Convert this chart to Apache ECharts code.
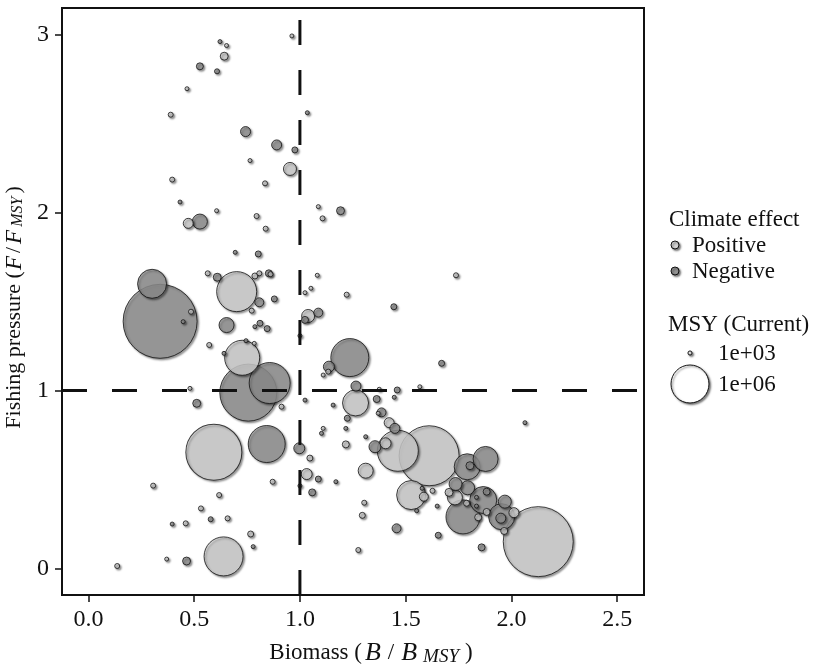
<!DOCTYPE html>
<html><head><meta charset="utf-8">
<script src="https://cdn.jsdelivr.net/npm/echarts@6/dist/echarts.min.js"></script>
<style>html,body{margin:0;padding:0;background:#fff}#c{width:815px;height:664px}</style>
</head><body><div id="c"></div>
<script>
// ---- data ----
const biomass = [
0.622,0.653,0.642,0.527,0.608,0.466,0.389,0.743,0.764,0.396,
0.962,0.890,0.976,0.953,0.835,1.035,0.433,0.606,0.472,0.527,
0.795,0.838,0.694,0.803,1.087,1.107,1.192,1.082,1.738,1.024,
1.052,1.221,1.444,0.339,0.301,0.485,0.448,0.564,0.609,0.701,
0.772,0.653,0.571,0.787,0.811,0.845,0.727,0.641,0.784,0.853,
0.861,0.808,0.787,0.808,0.879,0.745,1.039,1.087,1.024,1.000,
1.236,1.137,1.110,1.134,1.265,1.375,1.460,1.567,1.670,0.756,
0.857,0.480,0.512,0.913,0.593,0.843,0.997,1.047,1.032,1.087,
1.058,1.000,1.024,1.110,1.102,0.871,0.306,0.618,0.532,0.578,
0.658,0.396,0.460,0.767,0.779,0.639,0.464,0.370,0.136,1.157,
1.263,1.224,1.363,1.446,1.386,1.370,1.422,1.449,1.217,1.311,
1.217,1.463,1.355,1.405,1.611,1.311,1.526,1.586,1.578,1.627,
1.649,1.654,1.457,1.276,1.304,1.295,1.170,1.859,2.064,1.791,
1.804,1.878,1.736,1.793,1.705,1.733,1.771,1.867,1.835,1.835,
1.883,1.788,1.843,1.883,1.969,1.954,1.950,2.012,1.966,2.127,
1.552];
const fishing = [
2.962,2.940,2.880,2.823,2.795,2.697,2.551,2.456,2.293,2.186,
2.994,2.381,2.353,2.246,2.165,2.562,2.060,2.011,1.940,1.950,
1.981,1.910,1.777,1.768,2.034,1.968,2.011,1.648,1.648,1.550,
1.575,1.539,1.471,1.389,1.600,1.443,1.387,1.659,1.637,1.556,
1.449,1.368,1.256,1.359,1.378,1.348,1.184,1.209,1.265,1.659,
1.654,1.659,1.644,1.496,1.515,1.280,1.419,1.438,1.397,1.308,
1.185,1.134,1.087,1.106,1.025,1.007,1.003,1.021,1.153,0.988,
1.042,1.012,0.928,0.909,0.653,0.699,0.675,0.620,0.530,0.502,
0.427,0.464,0.946,0.787,0.759,0.487,0.465,0.412,0.337,0.276,
0.281,0.249,0.253,0.193,0.122,0.067,0.041,0.052,0.013,0.918,
0.930,0.844,0.952,0.962,0.877,0.872,0.819,0.787,0.787,0.740,
0.697,0.661,0.684,0.703,0.633,0.549,0.412,0.403,0.450,0.436,
0.350,0.186,0.225,0.103,0.369,0.298,0.487,0.118,0.819,0.571,
0.577,0.615,0.474,0.453,0.427,0.399,0.289,0.384,0.399,0.350,
0.431,0.366,0.287,0.317,0.375,0.290,0.282,0.313,0.210,0.150,
0.324];
const msy = [
800,800,20000,13000,3300,800,3300,40000,800,3300,
800,40000,7300,82000,3300,800,800,800,40000,118000,
3300,3300,800,7300,800,3300,20000,800,3300,800,
800,3300,7300,4115000,552000,3300,800,3300,20000,1118000,
3300,118000,3300,800,7300,7300,836000,800,800,13000,
3300,3300,7300,29000,7300,800,82000,29000,13000,800,
1000000,52000,800,3300,40000,800,7300,800,7300,2380000,
1179000,800,20000,3300,2293000,944000,52000,7300,52000,7300,
13000,800,800,800,800,3300,3300,3300,3300,3300,
3300,800,3300,7300,800,1058000,20000,800,3300,800,
432000,7300,13000,800,29000,800,40000,40000,800,800,
13000,1179000,66000,52000,2652000,118000,552000,29000,800,3300,
800,7300,29000,3300,3300,7300,800,13000,800,432000,
20000,395000,82000,99000,20000,118000,784000,470000,800,800,
13000,7300,13000,13000,82000,432000,40000,40000,13000,3665000,
800];
const effect = [
'N','P','P','N','N','P','P','N','P','P',
'P','N','N','P','P','N','N','P','P','N',
'P','P','N','N','P','P','N','P','P','P',
'P','P','N','N','N','P','N','P','N','P',
'P','N','P','N','N','N','P','N','P','N',
'P','P','P','N','N','N','P','N','N','N',
'N','N','P','P','N','P','N','P','N','N',
'N','P','N','P','P','N','N','P','P','N',
'N','N','N','P','N','P','P','P','P','N',
'P','N','P','P','N','P','N','P','P','N',
'P','N','N','N','N','P','P','N','N','N',
'P','P','N','P','P','P','P','P','N','P',
'N','N','N','P','P','P','N','N','N','N',
'N','N','N','N','P','P','N','N','N','N',
'N','P','P','P','N','N','N','P','P','P',
'N'];
const effectNames = {P: 'Positive', N: 'Negative'};
const xTicks = [0, 0.5, 1, 1.5, 2, 2.5];
const yTicks = [0, 1, 2, 3];
const xRange = [-0.125, 2.627];
const yRange = [-0.15, 3.151];
const refBiomass = 1;
const refFishing = 1;
const legendMsy = [1e3, 1e6];
const legendMsyLabels = ['1e+03', '1e+06'];

// ---- styling ----
const FONT = 'Liberation Serif';
const INK = '#111';
const FILL = {Positive: '#d3d3d3', Negative: '#939393'};
const sizeOf = m => 3 + 0.035 * Math.sqrt(m);
const SHADOW = {shadowBlur: 2, shadowOffsetX: 1.5, shadowOffsetY: 1.5, shadowColor: 'rgba(0,0,0,0.5)'};

const pts = biomass.map((b, i) => ({b: b, f: fishing[i], m: msy[i], e: effectNames[effect[i]]}));
pts.sort((a, c) => c.m - a.m);

const chart = echarts.init(document.getElementById('c'), null, {renderer: 'canvas'});

const richX = {
  n: {fontFamily: FONT, fontSize: 23, color: INK},
  sl: {fontFamily: FONT, fontSize: 23, color: INK, padding: [0, 4, 0, 4]},
  i: {fontFamily: FONT, fontSize: 26, color: INK, fontStyle: 'italic', padding: [0, 3, 0, 3]},
  s: {fontFamily: FONT, fontSize: 19, color: INK, fontStyle: 'italic', verticalAlign: 'bottom', lineHeight: 16, padding: [0, 6, 0, 3]}
};
const richY = {
  n: {fontFamily: FONT, fontSize: 22, color: INK},
  sl: {fontFamily: FONT, fontSize: 22, color: INK, padding: [0, 2, 0, 2]},
  i: {fontFamily: FONT, fontSize: 23, color: INK, fontStyle: 'italic', padding: [0, 1, 0, 1]},
  s: {fontFamily: FONT, fontSize: 16, color: INK, fontStyle: 'italic', verticalAlign: 'bottom', lineHeight: 14, padding: [0, 3, 0, 2]}
};

// legend graphics
const graphics = [];
const LFONT = '23px ' + FONT;
graphics.push({type: 'text', x: 669, y: 220, style: {text: 'Climate effect', font: LFONT, fill: INK, verticalAlign: 'middle'}});
['Positive', 'Negative'].forEach((name, k) => {
  const cy = 245 + k * 26;
  graphics.push({type: 'circle', shape: {cx: 675, cy: cy, r: 4}, style: Object.assign({fill: FILL[name], stroke: INK, lineWidth: 1}, SHADOW)});
  graphics.push({type: 'text', x: 692, y: cy + 1, style: {text: name, font: LFONT, fill: INK, verticalAlign: 'middle'}});
});
graphics.push({type: 'text', x: 668, y: 325, style: {text: 'MSY (Current)', font: LFONT, fill: INK, verticalAlign: 'middle'}});
const legY = [353, 384];
legendMsy.forEach((m, k) => {
  const r = sizeOf(m) / 2;
  graphics.push({type: 'circle', shape: {cx: 690, cy: legY[k], r: r}, style: Object.assign({fill: '#fff', stroke: INK, lineWidth: 1}, SHADOW)});
  graphics.push({type: 'text', x: 718, y: legY[k] + 1, style: {text: legendMsyLabels[k], font: LFONT, fill: INK, verticalAlign: 'middle'}});
});

const option = {
  backgroundColor: '#fff',
  animation: false,
  grid: {left: 62, top: 8, right: 171, bottom: 69, show: true, borderColor: INK, borderWidth: 2, containLabel: false, outerBoundsMode: 'none'},
  xAxis: {
    type: 'value', min: xRange[0], max: xRange[1],
    name: '{n|Biomass (}{i|B}{sl|/}{i|B}{s|MSY}{n|)}', nameLocation: 'middle', nameGap: 45,
    nameTextStyle: {rich: richX, padding: [0, 0, 0, 36]},
    axisLine: {show: true, onZero: false, lineStyle: {color: INK, width: 2}},
    axisTick: {show: true, length: 7, customValues: xTicks, lineStyle: {color: INK, width: 1.5}},
    axisLabel: {customValues: xTicks, formatter: v => Number(v).toFixed(1), fontFamily: FONT, fontSize: 24, color: INK, margin: 13},
    splitLine: {show: false}
  },
  yAxis: {
    type: 'value', min: yRange[0], max: yRange[1],
    name: '{n|Fishing pressure (}{i|F}{sl|/}{i|F}{s|MSY}{n|)}', nameLocation: 'middle', nameGap: 34, nameRotate: 90,
    nameTextStyle: {rich: richY, padding: [0, 12, 0, 0]},
    axisLine: {show: true, onZero: false, lineStyle: {color: INK, width: 2}},
    axisTick: {show: true, length: 7, customValues: yTicks, lineStyle: {color: INK, width: 1.5}},
    axisLabel: {customValues: yTicks, formatter: v => String(Math.round(v)), fontFamily: FONT, fontSize: 24, color: INK, margin: 13},
    splitLine: {show: false}
  },
  series: [
    {
      type: 'scatter',
      data: pts.map(p => ({value: [p.b, p.f, p.m], name: p.e, itemStyle: {color: FILL[p.e]}})),
      symbolSize: v => sizeOf(v[2]),
      itemStyle: Object.assign({borderColor: INK, borderWidth: 1}, SHADOW),
      z: 2
    },
    {
      type: 'line', z: 5, silent: true, symbol: 'none', animation: false,
      data: [[refBiomass, yRange[0]], [refBiomass, yRange[1]]],
      lineStyle: {color: INK, width: 3, type: [25, 25]}
    },
    {
      type: 'line', z: 5, silent: true, symbol: 'none', animation: false,
      data: [[xRange[0], refFishing], [xRange[1], refFishing]],
      lineStyle: {color: INK, width: 3, type: [25, 25]}
    }
  ],
  graphic: graphics
};
chart.setOption(option);
</script>
</body></html>
